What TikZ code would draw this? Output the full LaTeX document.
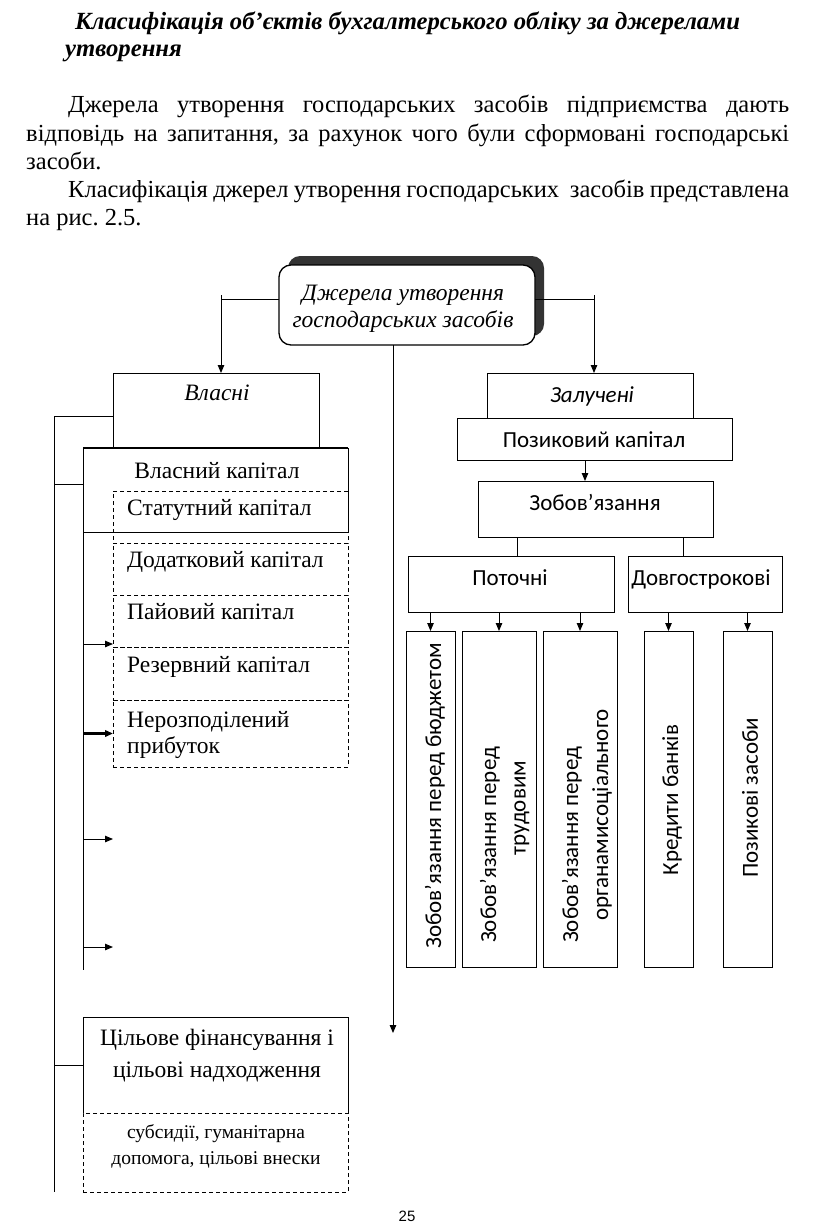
\documentclass[tikz,border=0pt]{standalone}
\usepackage{fontspec}
\setmainfont{Liberation Serif}
\newfontfamily\calib{Carlito}
\newfontfamily\arialf{Liberation Sans}
\usetikzlibrary{arrows.meta}
\newcommand\mybox[6]{\node[#6, minimum width={(#4-#2)*1pt}, minimum height={(#5-#3)*1pt}] (#1) at ({(#2+#4)/2},{(#3+#5)/2}) {};}
\frenchspacing
\begin{document}
\begin{tikzpicture}[x=1pt,y=-1pt,
  box/.style={draw, line width=1pt, inner sep=0pt, outer sep=0pt},
  nobox/.style={inner sep=0pt, outer sep=0pt},
  dbox/.style={draw, dash pattern=on 4pt off 3pt, line width=0.9pt, inner sep=0pt, outer sep=0pt},
  arr/.style={line width=1pt, -{Triangle[length=8pt,width=6.5pt]}},
  ln/.style={line width=1pt},
  body/.style={font=\fontsize{24.5}{28}\selectfont, inner sep=0pt, anchor=base west},
  ttl/.style={font=\fontsize{24.7}{28}\selectfont\bfseries\itshape, inner sep=0pt, anchor=base west},
  tnr/.style={font=\fontsize{23.5}{27}\selectfont, inner sep=0pt, anchor=base},
  tnrl/.style={font=\fontsize{23.5}{27}\selectfont, inner sep=0pt, anchor=base west},
  tnrs/.style={font=\fontsize{19.5}{24}\selectfont, inner sep=0pt, anchor=base},
  cal/.style={font=\calib\fontsize{23}{27}\selectfont, inner sep=0pt, anchor=base},
  calr/.style={font=\calib\fontsize{23}{27}\selectfont, inner sep=0pt, rotate=90},
]
\useasboundingbox (0,0) rectangle (816,1228);
\fill[white] (0,0) rectangle (816,1228);

% ---------- text above ----------
\node[ttl] (title1) at (75,30) {Класифікація об’єктів бухгалтерського обліку за джерелами};
\node[ttl] (title2) at (65,57) {утворення};
\node[body] (p1) at (68,113) {\makebox[721pt][s]{Джерела утворення господарських засобів підприємства дають}};
\node[body] (p2) at (26,141) {\makebox[763pt][s]{відповідь на запитання, за рахунок чого були сформовані господарські}};
\node[body] (p3) at (26,169) {засоби.};
\node[body] (p4) at (68,197) {\makebox[721pt][s]{Класифікація джерел утворення господарських\ \ засобів представлена}};
\node[body] (p5) at (26,225) {на рис. 2.5.};

% ---------- header ----------
\node[nobox, fill=black!80, rounded corners=12pt, minimum width=256pt, minimum height=80pt] (shadow) at (416,296) {};
\node[box, fill=white, line width=1.3pt, rounded corners=12pt, minimum width=256pt, minimum height=80pt] (head) at (407,305) {};
\node[tnr, font=\fontsize{23.5}{27}\selectfont\itshape] (ht1) at (403,300) {Джерела утворення};
\node[tnr, font=\fontsize{23.5}{27}\selectfont\itshape] (ht2) at (403,327) {господарських засобів};

% ---------- left column ----------
\mybox{vlas}{113}{373}{319}{448}{box}
\mybox{vk}{83}{448}{348}{532}{box}
\draw[line width=2pt] (vk.north west) -- (vk.north east);
\mybox{stat}{113}{491}{348}{543}{dbox}
\mybox{dod}{113}{543}{348}{595}{dbox}
\mybox{pai}{113}{595}{348}{647}{dbox}
\mybox{rez}{113}{647}{348}{700}{dbox}
\mybox{ner}{113}{700}{348}{767}{dbox}
\mybox{cil}{83}{1017}{348}{1113}{nobox}
\draw[ln] (cil.south west) -- (cil.north west) -- (cil.north east) -- (cil.south east);
\mybox{sub}{83}{1113}{348}{1192}{dbox}

\node[tnr, font=\fontsize{23.5}{27}\selectfont\itshape] (tvlas) at (217,400) {Власні};
\node[tnr] (tvk) at (217,478) {Власний капітал};
\node[tnrl] (tstat) at (127,515) {Статутний капітал};
\node[tnrl] (tdod) at (127,567) {Додатковий капітал};
\node[tnrl] (tpai) at (127,619) {Пайовий капітал};
\node[tnrl] (trez) at (127,672) {Резервний капітал};
\node[tnrl] (tner1) at (127,727) {Нерозподілений};
\node[tnrl] (tner2) at (127,753) {прибуток};
\node[tnr] (tcil1) at (217,1045) {Цільове фінансування і};
\node[tnr] (tcil2) at (217,1077) {цільові надходження};
\node[tnrs] (tsub1) at (216,1138) {субсидії, гуманітарна};
\node[tnrs] (tsub2) at (216,1164) {допомога, цільові внески};

% ---------- right column ----------
\mybox{zal}{487}{373}{693}{418}{box}
\mybox{poz}{457}{418}{732}{460}{box}
\mybox{zob}{478}{481}{713}{537}{box}
\mybox{pot}{408}{556}{614}{612}{box}
\mybox{dov}{628}{556}{782}{612}{box}
\mybox{b1}{406}{631}{455}{967}{box}
\mybox{b2}{462}{631}{536}{967}{box}
\mybox{b3}{543}{631}{617}{967}{box}
\mybox{b4}{644}{631}{693}{967}{box}
\mybox{b5}{723}{631}{772}{967}{box}

\node[cal, font=\calib\fontsize{23}{27}\selectfont\itshape] (tzal) at (592,402) {Залучені};
\node[cal] (tpoz) at (594,447) {Позиковий капітал};
\node[cal] (tzob) at (595,510) {Зобов’язання};
\node[cal] (tpot) at (510,585) {Поточні};
\node[cal] (tdov) at (701,585) {Довгострокові};

\node[calr] (tb1) at (435,796) {Зобов’язання перед бюджетом};
\node[calr] (tb2a) at (490,845) {Зобов’язання перед};
\node[calr] (tb2b) at (522,808) {трудовим};
\node[calr] (tb3a) at (572,845) {Зобов’язання перед};
\node[calr] (tb3b) at (602,815) {органамисоціального};
\node[calr] (tb4) at (672,800) {Кредити банків};
\node[calr] (tb5) at (750,798) {Позикові засоби};

% ---------- connectors ----------
\coordinate (tickL) at (221,295);
\coordinate (tickR) at (594,295);
\coordinate (cend) at (393,1033);
\coordinate (obot) at (54,1192);
\coordinate (ibot) at (83,970);
\coordinate (a3) at (113,839);
\coordinate (a4) at (113,947);
\coordinate (zl) at (517,0);
\coordinate (zr) at (683,0);

\draw[ln] ([yshift=6pt]head.west) -| (tickL);
\draw[arr] (tickL) -- (tickL |- vlas.north);
\draw[ln] ([yshift=6pt]head.east) -| (tickR);
\draw[arr] (tickR) -- (tickR |- zal.north);
\draw[arr] (cend |- head.south) -- (cend);

\draw[ln] ([yshift=-5.5pt]vlas.west) -| (obot);
\draw[ln] ([yshift=6pt]vk.west) -- ([yshift=6pt]vk.west -| obot);
\draw[ln] (cil.west) -- (cil.west -| obot);
\draw[ln] (vk.south west) -- (ibot);
\draw[arr] ([yshift=3pt]rez.north west -| ibot) -- ([yshift=3pt]rez.north west);
\draw[arr, line width=2.5pt] (ner.west -| ibot) -- (ner.west);
\draw[arr] (a3 -| ibot) -- (a3);
\draw[arr] (a4 -| ibot) -- (a4);

\draw[arr] ([xshift=-9.5pt]poz.south) -- ([xshift=-9.5pt]poz.south |- zob.north);
\draw[ln] (zl |- zob.south) -- (zl |- pot.north);
\draw[ln] (zr |- zob.south) -- (zr |- dov.north);
\draw[arr] (b1.north |- pot.south) -- (b1.north);
\draw[arr] (b2.north |- pot.south) -- (b2.north);
\draw[arr] (b3.north |- pot.south) -- (b3.north);
\draw[arr] (b4.north |- dov.south) -- (b4.north);
\draw[arr] (b5.north |- dov.south) -- (b5.north);

\node[inner sep=0pt, anchor=base, font=\arialf\fontsize{15}{18}\selectfont] (pnum) at (407,1221) {25};
\end{tikzpicture}
\end{document}
